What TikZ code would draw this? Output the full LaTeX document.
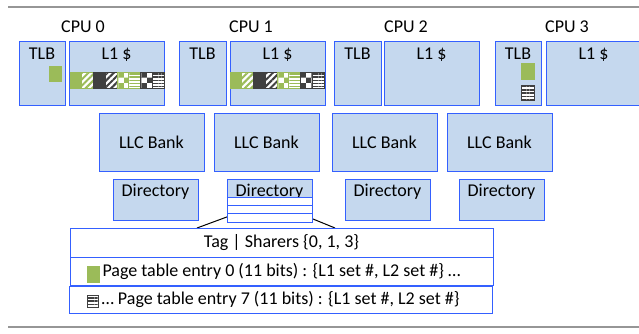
\documentclass[tikz,border=0pt]{standalone}
\usepackage{fontspec}
\setmainfont{Carlito}
\usepackage{tikz}
\usetikzlibrary{patterns,patterns.meta}
\definecolor{boxfill}{RGB}{197,216,238}
\definecolor{boxline}{RGB}{52,96,255}
\definecolor{pgreen}{RGB}{155,187,89}
\definecolor{pdark}{RGB}{64,64,64}
\definecolor{rulegray}{RGB}{150,150,150}
\tikzstyle{blk}=[shape=rectangle,draw=boxline,fill=boxfill,line width=0.9pt,inner sep=0pt,outer sep=0pt,anchor=north west]
\tikzstyle{row}=[shape=rectangle,draw=boxline,fill=white,line width=0.9pt,inner sep=0pt,outer sep=0pt,anchor=north west]
\tikzstyle{toplbl}=[below=7pt,inner sep=0pt,text height=11.5pt]
\tikzstyle{dirlbl}=[below=6pt,inner sep=0pt,text height=11.5pt]
\tikzstyle{cell}=[shape=rectangle,inner sep=0pt,outer sep=0pt,line width=0.7pt,minimum width=11.75,minimum height=16,anchor=north west]
\tikzstyle{gsolid}=[cell,draw=pgreen,fill=pgreen]
\tikzstyle{dsolid}=[cell,draw=pdark,fill=pdark]
\tikzstyle{gdiag}=[cell,draw=pgreen,preaction={fill=white},pattern={Lines[angle=45,distance=4.5pt,line width=2pt]},pattern color=pgreen]
\tikzstyle{ddiag}=[cell,draw=pdark,preaction={fill=white},pattern={Lines[angle=45,distance=4.5pt,line width=2pt]},pattern color=pdark]
\tikzstyle{gcheck}=[cell,draw=pgreen,preaction={fill=white},pattern=checkerboard,pattern color=pgreen]
\tikzstyle{dcheck}=[cell,draw=pdark,preaction={fill=white},pattern=checkerboard,pattern color=pdark]
\tikzstyle{ghoriz}=[cell,draw=pgreen,preaction={fill=white},pattern={Lines[angle=0,distance=3.2pt,line width=1.4pt]},pattern color=pgreen]
\tikzstyle{dhoriz}=[cell,draw=pdark,preaction={fill=white},pattern={Lines[angle=0,distance=3.2pt,line width=1.4pt]},pattern color=pdark]
\tikzstyle{link}=[draw=black,line width=1pt]

\begin{document}
\begin{tikzpicture}[x=1pt,y=-1pt,font=\fontsize{18}{21}\selectfont]
        \useasboundingbox (0,0) rectangle (639,333);
        \coordinate (ruleTL) at (8,7);
        \coordinate (ruleTR) at (639,7);
        \coordinate (ruleBL) at (8,327);
        \coordinate (ruleBR) at (639,327);
        \draw[rulegray,line width=1.3pt] (ruleTL) -- (ruleTR);
        \draw[rulegray,line width=1.3pt] (ruleBL) -- (ruleBR);

        % cores
        \node (cpu0) at (83,27) {CPU 0};
        \node (cpu1) at (251,27) {CPU 1};
        \node (cpu2) at (406,27) {CPU 2};
        \node (cpu3) at (567,27) {CPU 3};

        \node[blk,minimum width=46,minimum height=64,label={[toplbl]north:TLB}] (tlb0) at (19,41) {};
        \node[blk,minimum width=95,minimum height=64,label={[toplbl]north:L1 \$}] (l1c0) at (69,41) {};
        \node[blk,minimum width=47,minimum height=64,label={[toplbl]north:TLB}] (tlb1) at (179,41) {};
        \node[blk,minimum width=95,minimum height=64,label={[toplbl]north:L1 \$}] (l1c1) at (230,41) {};
        \node[blk,minimum width=47,minimum height=64,label={[toplbl]north:TLB}] (tlb2) at (334,41) {};
        \node[blk,minimum width=95,minimum height=64,label={[toplbl]north:L1 \$}] (l1c2) at (384,41) {};
        \node[blk,minimum width=46,minimum height=64,label={[toplbl]north:TLB}] (tlb3) at (495,41) {};
        \node[blk,minimum width=100,minimum height=64,label={[toplbl,xshift=-2.5pt]north:L1 \$}] (l1c3) at (546,41) {};

        % TLB entries
        \node[gsolid,minimum width=12,minimum height=15] (pte0a) at (49,66) {};
        \node[gsolid,minimum width=13,minimum height=16] (pte0b) at (521,63) {};
        \node[dhoriz,minimum width=13,minimum height=15] (pte7b) at (521,85) {};

        % cached lines, CPU 0
        \node[gsolid] (la0) at (70,72) {};
        \node[gdiag] (la1) at (81.75,72) {};
        \node[dsolid] (la2) at (93.5,72) {};
        \node[ddiag] (la3) at (105.25,72) {};
        \node[gcheck] (la4) at (117,72) {};
        \node[ghoriz] (la5) at (128.75,72) {};
        \node[dcheck] (la6) at (140.5,72) {};
        \node[dhoriz] (la7) at (152.25,72) {};
        % cached lines, CPU 1
        \node[gsolid] (lb0) at (230,72) {};
        \node[gdiag] (lb1) at (241.75,72) {};
        \node[dsolid] (lb2) at (253.5,72) {};
        \node[ddiag] (lb3) at (265.25,72) {};
        \node[gcheck] (lb4) at (277,72) {};
        \node[ghoriz] (lb5) at (288.75,72) {};
        \node[dcheck] (lb6) at (300.5,72) {};
        \node[dhoriz] (lb7) at (312.25,72) {};

        % shared cache
        \node[blk,minimum width=105,minimum height=58] (llc0) at (99,113) {};
        \node at (llc0.center) {LLC Bank};
        \node[blk,minimum width=105,minimum height=58] (llc1) at (214,113) {};
        \node at (llc1.center) {LLC Bank};
        \node[blk,minimum width=105,minimum height=58] (llc2) at (332,113) {};
        \node at (llc2.center) {LLC Bank};
        \node[blk,minimum width=105,minimum height=58] (llc3) at (447,113) {};
        \node at (llc3.center) {LLC Bank};

        \node[blk,minimum width=85,minimum height=41,label={[dirlbl]north:Directory}] (dir0) at (113,179) {};
        \node[blk,minimum width=85,minimum height=41,label={[dirlbl]north:Directory}] (dir1) at (227,179) {};
        \node[blk,minimum width=85,minimum height=41,label={[dirlbl]north:Directory}] (dir2) at (345,179) {};
        \node[blk,minimum width=85,minimum height=41,label={[dirlbl]north:Directory}] (dir3) at (459,179) {};

        % directory entry
        \coordinate (zoomL) at (197,228);
        \coordinate (zoomR) at (335,228);
        \node[row,minimum width=85,minimum height=8.4] (drow0) at (227,197) {}
            edge[link] (zoomL)
            edge[link] (zoomR.center)
        ;
        \node[row,minimum width=85,minimum height=8.4] (drow1) at (227,205.4) {};
        \node[row,minimum width=85,minimum height=8.4] (drow2) at (227,213.8) {};

        \node[row,minimum width=423,minimum height=29] (tag) at (70,228) {Tag | Sharers \{0, 1, 3\}};
        \node[row,minimum width=423,minimum height=28] (ent0) at (70,257) {};
        \node at (ent0.center) {Page table entry 0 (11 bits) : \{L1 set \#, L2 set \#\} …};
        \node[gsolid,minimum width=12,minimum height=16] (ico0) at (87,266) {};
        \node[row,minimum width=423,minimum height=27] (ent7) at (69,286) {};
        \node at (ent7.center) {… Page table entry 7 (11 bits) : \{L1 set \#, L2 set \#\}};
        \node[dhoriz,minimum width=11,minimum height=12] (ico7) at (87,295) {};
    \end{tikzpicture}
\end{document}
